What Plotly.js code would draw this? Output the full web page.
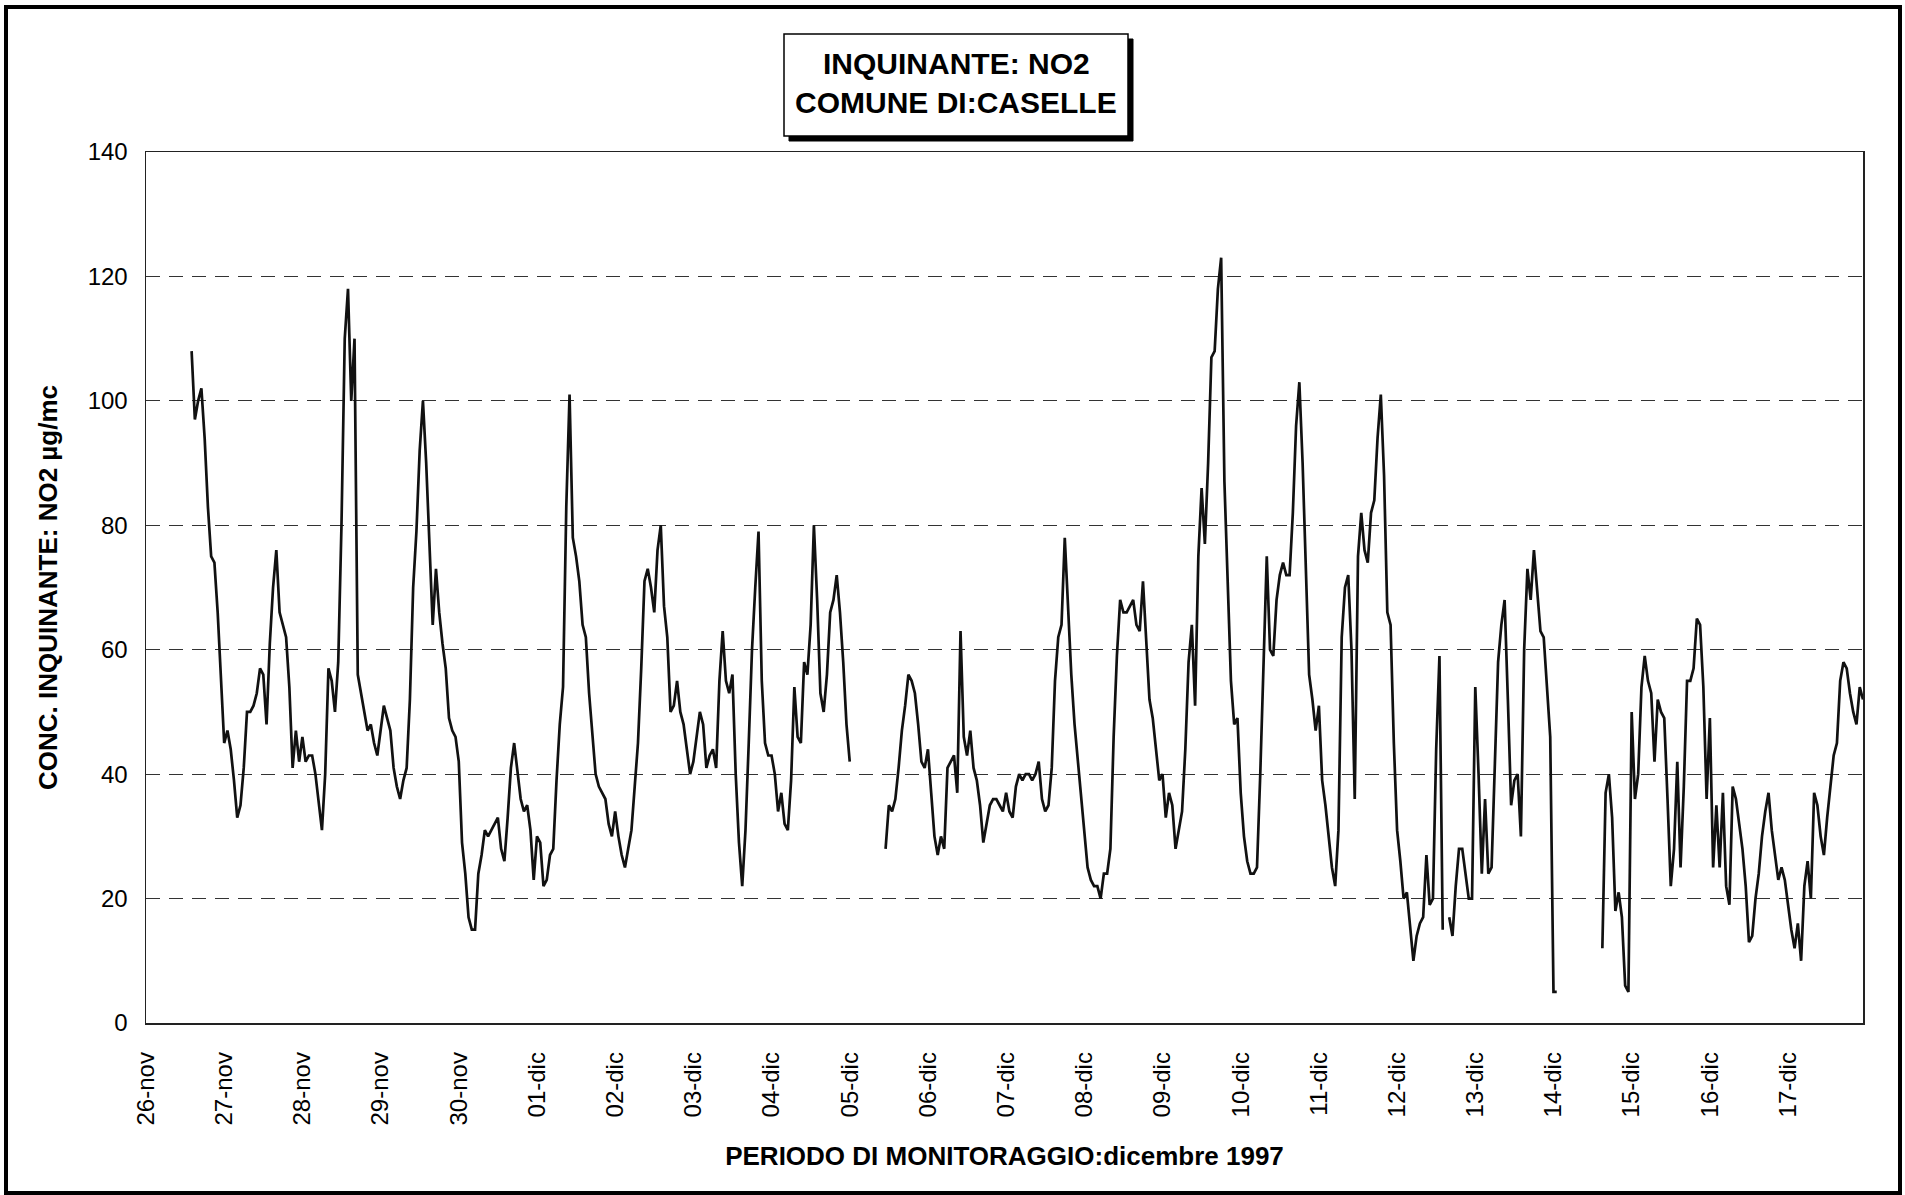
<!DOCTYPE html>
<html>
<head>
<meta charset="utf-8">
<script src="https://cdn.plot.ly/plotly-3.0.1.min.js"></script>
<style>
  html, body { margin: 0; padding: 0; background: #fff; }
  #wrap { position: relative; width: 1905px; height: 1195px; }
  #chart { position: absolute; left: 0; top: 0; width: 1905px; height: 1195px; }
  #frame { position: absolute; left: 4px; top: 5px; width: 1890px; height: 1182px;
           border: 4px solid #000; pointer-events: none; }
</style>
</head>
<body>
<div id="wrap"><div id="chart"></div><div id="frame"></div></div>
<script>
// Day labels (one tick per day, at midnight)
const dayLabels = ["26-nov","27-nov","28-nov","29-nov","30-nov","01-dic","02-dic","03-dic","04-dic",
  "05-dic","06-dic","07-dic","08-dic","09-dic","10-dic","11-dic","12-dic","13-dic","14-dic",
  "15-dic","16-dic","17-dic"];

// Title lines
const titleLines = ["INQUINANTE: NO2", "COMUNE DI:CASELLE"];

// Hourly NO2 concentration (µg/mc), 24 values per day, null = missing
const nov26 = [null,null,null,null,null,null,null,null,null,null,null,null,null,null,108,97,100,102,94,83,75,74,66,55];
const nov27 = [45,47,44,39,33,35,41,50,50,51,53,57,56,48,61,70,76,66,64,62,54,41,47,42];
const nov28 = [46,42,43,43,40,35,31,40,57,55,50,58,80,110,118,100,110,56,53,50,47,48,45,43];
const nov29 = [47,51,49,47,41,38,36,39,41,52,70,79,92,100,90,77,64,73,66,61,57,49,47,46];
const nov30 = [42,29,24,17,15,15,24,27,31,30,31,32,33,28,26,33,41,45,40,36,34,35,31,23];
const dic01 = [30,29,22,23,27,28,39,48,54,83,101,78,75,71,64,62,53,47,40,38,37,36,32,30];
const dic02 = [34,30,27,25,28,31,38,45,57,71,73,70,66,76,80,67,62,50,51,55,50,48,44,40];
const dic03 = [42,46,50,48,41,43,44,41,55,63,55,53,56,40,29,22,31,45,60,70,79,55,45,43];
const dic04 = [43,40,34,37,32,31,39,54,46,45,58,56,64,80,68,53,50,56,66,68,72,66,58,48];
const dic05 = [42,null,null,null,null,null,null,null,null,null,null,28,35,34,36,41,47,51,56,55,53,48,42,41];
const dic06 = [44,37,30,27,30,28,41,42,43,37,63,46,43,47,41,39,35,29,32,35,36,36,35,34];
const dic07 = [37,34,33,38,40,39,40,40,39,40,42,36,34,35,41,55,62,64,78,66,56,48,42,36];
const dic08 = [31,25,23,22,22,20,24,24,28,46,59,68,66,66,67,68,64,63,71,62,52,49,44,39];
const dic09 = [40,33,37,35,28,31,34,44,58,64,51,75,86,77,90,107,108,118,123,87,70,55,48,49];
const dic10 = [37,30,26,24,24,25,40,58,75,60,59,68,72,74,72,72,82,96,103,90,72,56,52,47];
const dic11 = [51,39,35,30,25,22,31,62,70,72,60,36,75,82,76,74,82,84,94,101,88,66,64,45];
const dic12 = [31,26,20,21,16,10,14,16,17,27,19,20,44,59,15,null,17,14,22,28,28,24,20,20];
const dic13 = [54,40,24,36,24,25,40,58,64,68,52,35,39,40,30,60,73,68,76,70,63,62,54,46];
const dic14 = [5,5,null,null,null,null,null,null,null,null,null,null,null,null,null,12,37,40,33,18,21,17,6,5];
const dic15 = [50,36,40,54,59,55,53,42,52,50,49,36,22,28,42,25,38,55,55,57,65,64,54,36];
const dic16 = [49,25,35,25,37,22,19,38,36,32,28,22,13,14,20,24,30,34,37,31,27,23,25,23];
const dic17 = [19,15,12,16,10,22,26,20,37,35,30,27,33,38,43,45,55,58,57,53,50,48,54,52];

const days = [nov26,nov27,nov28,nov29,nov30,dic01,dic02,dic03,dic04,dic05,dic06,dic07,
              dic08,dic09,dic10,dic11,dic12,dic13,dic14,dic15,dic16,dic17];
days.forEach((d, i) => { if (d.length !== 24) throw new Error("day " + dayLabels[i] + " has " + d.length); });

const values = [].concat(...days);
const hours = values.map((_, i) => i);

const FONT = "Liberation Sans, Arial, sans-serif";
const W = 1905, H = 1195;
const M = { l: 146, r: 42, t: 152, b: 172 };
const pw = W - M.l - M.r, ph = H - M.t - M.b;
const px2x = p => (p - M.l) / pw;
const py2y = p => (H - M.b - p) / ph;

// title box geometry (page pixels)
const box = { x0: 784, x1: 1128, y0: 34, y1: 136, shadow: 5 };
const boxCx = (box.x0 + box.x1) / 2;
const lineY = [64, 102];

const trace = {
  x: hours, y: values, type: "scatter", mode: "lines",
  line: { color: "#111", width: 2.7 },
  connectgaps: false, hoverinfo: "x+y"
};

const layout = {
  width: W, height: H,
  margin: M,
  paper_bgcolor: "#fff", plot_bgcolor: "#fff",
  showlegend: false,
  font: { family: FONT, color: "#000" },
  xaxis: {
    range: [0, values.length - 1],
    tickvals: dayLabels.map((_, i) => i * 24),
    ticktext: dayLabels,
    tickangle: -90,
    tickfont: { family: FONT, size: 24, color: "#000" },
    ticks: "", ticklabelstandoff: 18,
    showgrid: false, zeroline: false,
    showline: true, mirror: true, linecolor: "#222", linewidth: 1.5,
    title: { text: "<b>PERIODO DI MONITORAGGIO:dicembre 1997</b>", font: { family: FONT, size: 26, color: "#000" }, standoff: 22 }
  },
  yaxis: {
    range: [0, 140], tick0: 0, dtick: 20,
    tickfont: { family: FONT, size: 24, color: "#000" },
    ticks: "", ticklabelstandoff: 12,
    showgrid: true, gridcolor: "#333", gridwidth: 1, griddash: "14px,9px",
    zeroline: false,
    showline: true, mirror: true, linecolor: "#222", linewidth: 1.5,
    title: { text: "<b>CONC. INQUINANTE: NO2 µg/mc</b>", font: { family: FONT, size: 26, color: "#000" }, standoff: 22 }
  },
  shapes: [
    { type: "rect", xref: "paper", yref: "paper", layer: "above",
      x0: px2x(box.x0 + box.shadow), x1: px2x(box.x1 + box.shadow),
      y0: py2y(box.y1 + box.shadow), y1: py2y(box.y0 + box.shadow),
      fillcolor: "#000", line: { color: "#000", width: 1 } },
    { type: "rect", xref: "paper", yref: "paper", layer: "above",
      x0: px2x(box.x0), x1: px2x(box.x1), y0: py2y(box.y1), y1: py2y(box.y0),
      fillcolor: "#fff", line: { color: "#000", width: 1.5 } }
  ],
  annotations: titleLines.map((t, i) => ({
    xref: "paper", yref: "paper", x: px2x(boxCx), y: py2y(lineY[i]),
    xanchor: "center", yanchor: "middle", showarrow: false,
    text: "<b>" + t + "</b>",
    font: { family: FONT, size: 30, color: "#000" }
  }))
};

Plotly.newPlot("chart", [trace], layout, { displayModeBar: false, staticPlot: true });
</script>
</body>
</html>
